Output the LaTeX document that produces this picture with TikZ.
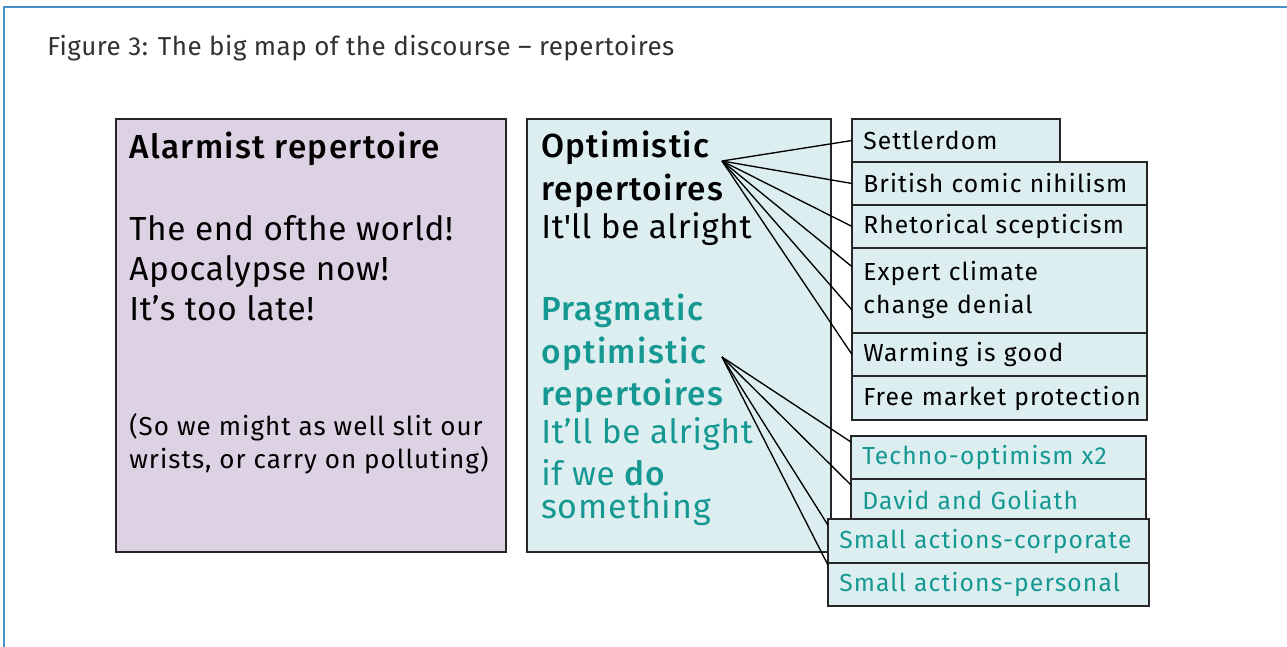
\documentclass[tikz,border=0pt]{standalone}
\usepackage{fontspec}
\setmainfont{Fira Sans}[BoldFont={Fira Sans Medium}]
\usetikzlibrary{positioning,calc}
\definecolor{alarmfill}{RGB}{221,210,227}
\definecolor{optfill}{RGB}{221,238,240}
\definecolor{prag}{RGB}{22,152,146}
\definecolor{framec}{RGB}{74,144,196}
\definecolor{titlegrey}{RGB}{50,50,50}

\tikzset{
  bigbox/.style={draw=black!85, line width=1.1pt, anchor=north west,
    minimum height=324.75pt, inner sep=0pt, outer sep=0pt},
  subbox/.style={draw=black!85, line width=1.1pt, fill=optfill,
    anchor=north west, inner xsep=8.5pt, inner ysep=0pt, outer sep=0pt,
    minimum height=32.25pt, align=left, text width=#1,
    font=\fontsize{18.5}{24.75}\selectfont\addfontfeatures{LetterSpace=4.5}},
  bigtext/.style={anchor=base west, inner sep=0pt,
    font=\fontsize{25}{30}\selectfont\addfontfeatures{LetterSpace=2}},
  boldtext/.style={anchor=base west, inner sep=0pt,
    font=\fontsize{25}{30}\selectfont\bfseries\addfontfeatures{LetterSpace=4}},
  smalltext/.style={anchor=base west, inner sep=0pt,
    font=\fontsize{19.5}{24.75}\selectfont\addfontfeatures{LetterSpace=4}},
  spoke/.style={line width=1pt}
}

\begin{document}
\begin{tikzpicture}[x=0.75pt, y=-0.75pt]
\useasboundingbox (0,0) rectangle (1287,646);
\fill[white] (0,0) rectangle (1287,646);
\draw[framec, line width=1.5pt] (4,660) -- (4,7) -- (1300,7);
\node[anchor=base west, inner sep=0pt, text=titlegrey,
  font=\fontsize{19.5}{24}\selectfont\addfontfeatures{LetterSpace=2}]
  (title) at (47,55) {Figure 3: The big map of the discourse -- repertoires};

% the two big boxes
\node[bigbox, fill=alarmfill, minimum width=292.5pt] (alarm) at (116,119) {};
\node[bigbox, fill=optfill, minimum width=228pt] (optim) at (527,119) {};

\node[boldtext] (alarmhead) at (129,158) {Alarmist repertoire};
\node[bigtext] (alarm1) at (129,240) {The end ofthe world!};
\node[bigtext] (alarm2) at (129,280) {Apocalypse now!};
\node[bigtext] (alarm3) at (129,320) {It’s too late!};
\node[smalltext] (alarmnote1) at (129,435) {(So we might as well slit our};
\node[smalltext] (alarmnote2) at (129,468) {wrists, or carry on polluting)};

\node[boldtext] (opthead1) at (541,157) {Optimistic};
\node[boldtext] (opthead2) at (541,200) {repertoires};
\node[bigtext] (optline) at (541,238) {It\textquotesingle ll be alright};

\node[boldtext, text=prag] (prag1) at (541,320) {Pragmatic};
\node[boldtext, text=prag] (prag2) at (541,363) {optimistic};
\node[boldtext, text=prag] (prag3) at (541,405) {repertoires};
\node[bigtext, text=prag] (prag4) at (541,443) {It’ll be alright};
\node[bigtext, text=prag] (prag5) at (541,485) {if we \textbf{do}};
\node[bigtext, text=prag,
  font=\fontsize{25.5}{30}\selectfont\addfontfeatures{LetterSpace=2.5}]
  (prag6) at (541,518) {something};

\coordinate (opthub) at (722,161);
\coordinate (praghub) at (722,357);

% optimistic repertoires
\node[subbox=139pt] (settler) at (852,119) {Settlerdom};
\node[subbox=204.25pt] (british) at (settler.south west)
  {British comic nihilism};
\node[subbox=204.25pt] (rhet) at (british.south west)
  {Rhetorical scepticism};
\node[subbox=204.25pt, minimum height=63.75pt] (expert)
  at (rhet.south west) {Expert climate\\change denial};
\node[subbox=204.25pt] (warming) at (expert.south west) {Warming is good};
\node[subbox=204.25pt, minimum height=33pt] (freemkt) at (warming.south west)
  {\mbox{Free market protection}};

\foreach \b in {settler, british, rhet, warming}
  \draw[spoke] (opthub) -- (\b.west);
\draw[spoke] (opthub) -- ($(expert.north west)!0.22!(expert.south west)$);
\draw[spoke] (opthub) -- ($(expert.north west)!0.73!(expert.south west)$);

% pragmatic optimistic repertoires
\node[subbox=204.25pt, text=prag] (techno) at (851,436) {Techno-optimism x2};
\node[subbox=204.25pt, text=prag] (david) at (techno.south west)
  {David and Goliath};
\foreach \b in {techno, david}
  \draw[spoke] (praghub) -- ($(\b.north west)!0.14!(\b.south west)$);
\node[subbox=223.75pt, text=prag, minimum height=33pt] (corporate)
  at (828,519) {Small actions-corporate};
\node[subbox=223.75pt, text=prag] (personal) at (corporate.south west)
  {Small actions-personal};
\draw[spoke] (praghub) -- ($(corporate.north west)!0.14!(corporate.south west)$);
\draw[spoke] (praghub) -- ($(personal.north west)!0.05!(personal.south west)$);
\end{tikzpicture}
\end{document}
